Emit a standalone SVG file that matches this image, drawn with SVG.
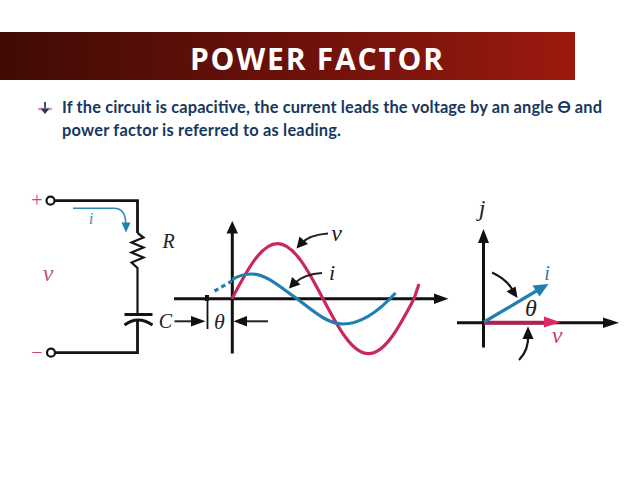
<svg xmlns="http://www.w3.org/2000/svg" width="638" height="479" viewBox="0 0 638 479">
<style>
.w{fill:none;stroke:#141414;stroke-linejoin:miter}
.ax{fill:none;stroke:#111;stroke-width:3}
.thin{fill:none;stroke:#222;stroke-width:2}
.h{fill:#111;stroke:none}
.lab{font-family:"Liberation Serif",serif;font-style:italic;fill:#222}
.body{font-family:Lato,"Open Sans",sans-serif;font-weight:700;font-size:16.4px;fill:#17375e}
.pink{stroke:#c9285f;fill:none;stroke-width:3.200}
.blue{stroke:#1f7fb0;fill:none;stroke-width:3.200}
</style>
<defs>
<linearGradient id="hdr" x1="0" x2="1" y1="0" y2="0">
<stop offset="0" stop-color="#3f0b05"/><stop offset="0.5" stop-color="#6b110a"/><stop offset="1" stop-color="#9b1a0e"/>
</linearGradient>
</defs>
<rect width="638" height="479" fill="#fff"/>
<g id="header">
<rect x="0" y="32" width="575" height="48" fill="url(#hdr)"/>
<text x="316.500" y="70" text-anchor="middle" font-family="'Open Sans',sans-serif" font-weight="700" font-size="30" fill="#fff" textLength="253" lengthAdjust="spacing">POWER FACTOR</text>
</g>
<g id="bullet-text">
<path d="M45 102V112" stroke="#2a3560" stroke-width="1.800" fill="none"/>
<path d="M38 109H52" stroke="#e0a0b0" stroke-width="2.500" fill="none"/>
<path d="M40.500 108.500H49.500L45 114Z" fill="#2a3560"/>
<text class="body" x="62" y="113" textLength="540" lengthAdjust="spacing">If the circuit is capacitive, the current leads the voltage by an angle Ө and</text>
<text class="body" x="62" y="136" textLength="279" lengthAdjust="spacing">power factor is referred to as leading.</text>
</g>
<g id="circuit">
<path class="w" stroke-width="2.800" d="M54.500 200.700H137.500V233"/>
<path class="w" stroke-width="2.200" d="M137.500 233L143.500 237.500L131.500 242.500L143.500 247.500L131.500 252.500L143.500 257.500L131.500 262.500L137.500 268V314"/>
<path class="w" stroke-width="3" d="M124.500 314.500H152.500"/>
<path class="w" stroke-width="3" d="M124.500 325Q138 315 152.500 325"/>
<path class="w" stroke-width="2.800" d="M137.500 320V352.700H55"/>
<circle cx="50.500" cy="200.700" r="4" fill="#fff" stroke="#141414" stroke-width="2.200"/>
<circle cx="51" cy="352.700" r="4" fill="#fff" stroke="#141414" stroke-width="2.200"/>
<text x="37" y="207" text-anchor="middle" font-family="'Liberation Serif',serif" font-size="20" fill="#c9487a">+</text>
<text x="37" y="359" text-anchor="middle" font-family="'Liberation Serif',serif" font-size="20" fill="#c9487a">−</text>
<text class="lab" x="48" y="281" text-anchor="middle" font-size="24" style="fill:#c2527f">v</text>
<text class="lab" x="91" y="224" text-anchor="middle" font-size="17" style="fill:#4a93bb">i</text>
<text class="lab" x="168.500" y="248" text-anchor="middle" font-size="20">R</text>
<text class="lab" x="165.500" y="328" text-anchor="middle" font-size="20">C</text>
<path d="M73 208.300H114Q125.500 208.300 125.800 224" fill="none" stroke="#2b8ab5" stroke-width="1.500"/>
<path d="M121.500 222.500H130.500L126 232.500Z" fill="#1f7fb0"/>
</g>
<g id="waveform">
<path class="ax" d="M174 298.700H438"/>
<path class="h" d="M434 293.500L448.500 298.700L434 304Z"/>
<path class="ax" d="M232.300 233V353.500"/>
<path class="h" d="M226.500 233.500L232.300 221L238 233.500Z"/>
<path class="pink" d="M232 298.700C246.800 270.500 261 243.700 277.500 243.700C294 243.700 308.200 270.500 323 298.700C337.800 326.900 352 353.700 368.500 353.700C385 353.700 399.200 326.900 414 298.700L419 284"/>
<path class="blue" d="M214.500 291Q223 286 232 281" stroke-dasharray="4.500 3.500"/>
<path class="blue" d="M232 279.500C238 276 244 274 252 274C266 274 280 287 297 298.700C312 310 327 324 343 324C362 324 380 310 395.500 293"/>
<path class="thin" d="M328 233.500Q309 235 302 243"/>
<path class="h" d="M296.500 248.500L299.500 236.500L308 244Z"/>
<path class="thin" d="M322 273Q304 274 295 283"/>
<path class="h" d="M289 288.500L292 277L300.500 284.500Z"/>
<text class="lab" x="336.500" y="241" text-anchor="middle" font-size="24">v</text>
<text class="lab" x="332" y="280" text-anchor="middle" font-size="22">i</text>
<path d="M207.500 296V329" stroke="#111" stroke-width="1.800" fill="none"/>
<rect x="205" y="295" width="4" height="6" fill="#111"/>
<path class="thin" d="M174.500 321.300H194"/>
<path class="h" d="M191 316L205.500 321.300L191 326.500Z"/>
<path class="thin" d="M268 321.300H244"/>
<path class="h" d="M247 316L233.500 321.300L247 326.500Z"/>
<text class="lab" x="219.500" y="329" text-anchor="middle" font-size="22">θ</text>
</g>
<g id="phasor">
<path class="ax" d="M457 322.700H608"/>
<path class="h" d="M603 317.500L619 322.700L603 328Z"/>
<path class="ax" d="M483.500 240V347.500"/>
<path class="h" d="M478 243L483.500 229L489 243Z"/>
<path d="M484 322.700H550" fill="none" stroke="#b02050" stroke-width="4"/>
<path d="M544 316.500L560.500 322.300L544 327.500Z" fill="#e02a68"/>
<path d="M484 322L538 290" fill="none" stroke="#1f7fb0" stroke-width="3.200"/>
<path d="M532.500 285.500L548.500 284L539.500 296.500Z" fill="#1f7fb0"/>
<path class="w" stroke-width="2.200" d="M492 272.500Q506 279 512 289"/>
<path class="h" d="M517.500 298L506.500 291.500L515.500 286.500Z"/>
<path class="w" stroke-width="2.200" d="M519 360Q529 350 528 335"/>
<path class="h" d="M528 326.500L522.500 339L533.500 339Z"/>
<text class="lab" x="482" y="216" text-anchor="middle" font-size="24">j</text>
<text class="lab" x="547" y="280" text-anchor="middle" font-size="20" style="fill:#2b80ad">i</text>
<text class="lab" x="531" y="316" text-anchor="middle" font-size="24">θ</text>
<text class="lab" x="557" y="343" text-anchor="middle" font-size="24" style="fill:#d63a72">v</text>
</g>
</svg>
